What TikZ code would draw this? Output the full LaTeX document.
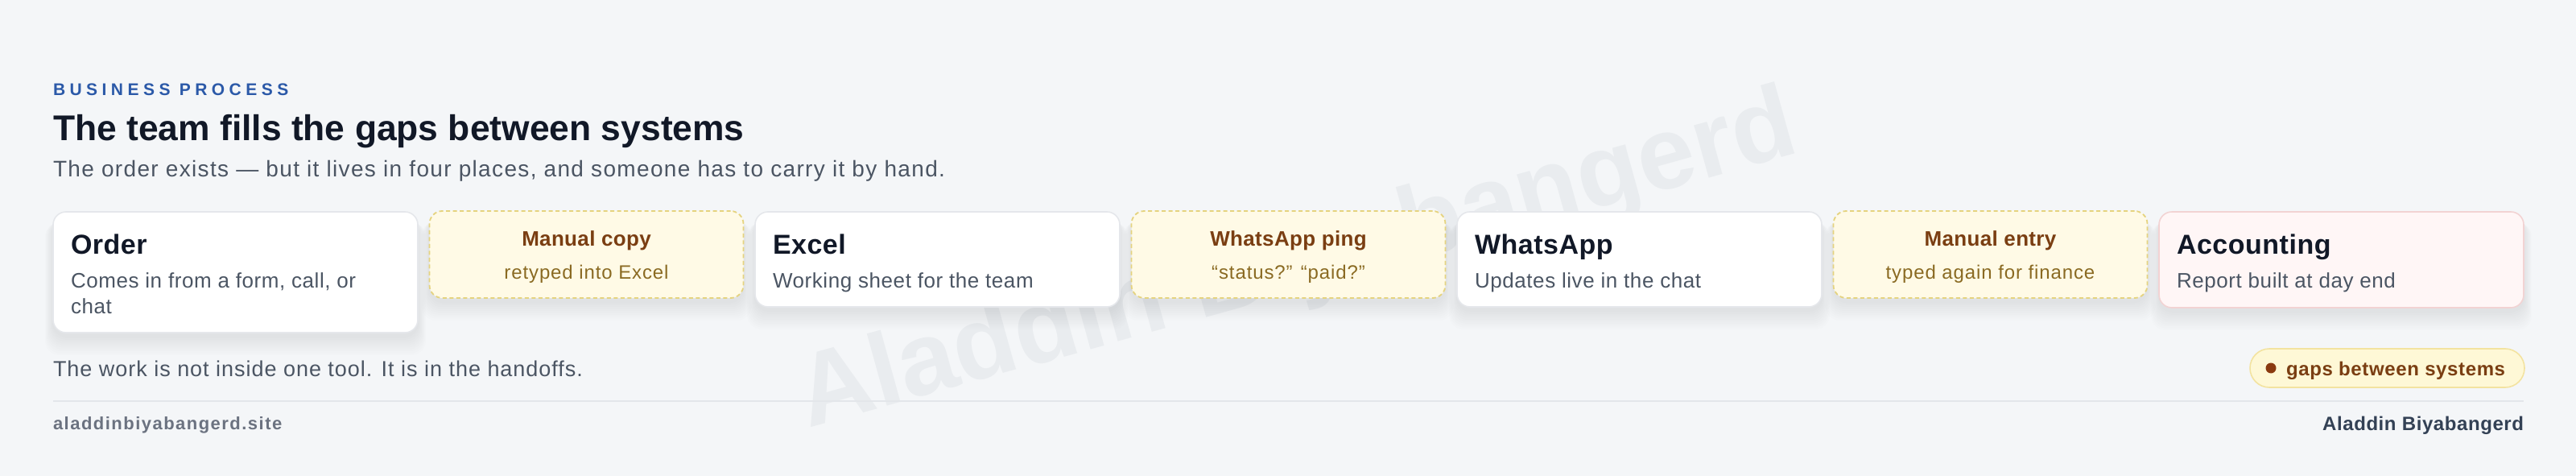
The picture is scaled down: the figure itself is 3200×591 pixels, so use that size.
\documentclass[tikz,border=0pt]{standalone}
\usepackage{fontspec}
\setmainfont{Liberation Sans}
\definecolor{bg}{HTML}{F4F6F8}
\definecolor{ink}{HTML}{111827}
\definecolor{muted}{HTML}{4B5563}
\definecolor{eyebrow}{HTML}{2B59A8}
\definecolor{gapline}{HTML}{E5D37F}
\definecolor{gapfill}{HTML}{FFFAE6}
\definecolor{gaptitle}{HTML}{7A3E12}
\definecolor{gapsub}{HTML}{8A6A22}
\definecolor{sysline}{HTML}{E5E7EB}
\definecolor{accfill}{HTML}{FFF6F6}
\definecolor{accline}{HTML}{F2D3D3}
\definecolor{pillfill}{HTML}{FEF8D6}
\definecolor{pillline}{HTML}{F3E3A0}
\definecolor{dotc}{HTML}{8A3A10}
\definecolor{sepline}{HTML}{E3E6EA}
\definecolor{footleft}{HTML}{6B7280}
\definecolor{footright}{HTML}{334155}
\definecolor{wmc}{HTML}{E9ECEF}
\newcommand{\fsz}[2]{\fontsize{#1}{#1}\selectfont\addfontfeature{LetterSpace=#2}}
\newcommand{\boxtitlefont}{\bfseries\fsz{34}{1.5}}
\newcommand{\boxdescfont}{\fsz{26}{2.2}}
\newcommand{\gaptitlefont}{\bfseries\fsz{26}{1.3}}
\newcommand{\gapsubfont}{\fsz{24}{3.7}}
\newcommand{\softshadow}[4]{%
  \foreach \i in {1,...,10}{%
    \fill[black,opacity=0.006,rounded corners=18pt] ({#1-\i},{#2+8+\i*0.5}) rectangle ({#3+\i},{#4+4+\i*2.4});}}
\begin{document}
\begin{tikzpicture}[x=1pt,y=-1pt,
  every node/.style={inner sep=0pt,outer sep=0pt},
  lbl/.style={anchor=base west},
  clbl/.style={anchor=base},
  sysbox/.style={draw=sysline,line width=1.6pt,fill=white,rounded corners=16pt,anchor=north west,minimum width=453pt},
  accbox/.style={sysbox,draw=accline,fill=accfill},
  gapbox/.style={draw=gapline,line width=1.8pt,dash pattern=on 5pt off 3.5pt,fill=gapfill,rounded corners=16pt,anchor=north west,minimum width=390pt,minimum height=108pt},
  btitle/.style={lbl,font=\boxtitlefont,text=ink},
  bdesc/.style={lbl,font=\boxdescfont,text=muted},
  gtitle/.style={clbl,font=\gaptitlefont,text=gaptitle},
  gsub/.style={clbl,font=\gapsubfont,text=gapsub}]
\useasboundingbox (0,0) rectangle (3200,591);
\fill[bg] (0,0) rectangle (3200,591);
% watermark
\node[rotate=15.5,text=wmc,font=\bfseries\fontsize{128}{128}\selectfont] (wm) at (1612,328.5) {Aladdin Biyabangerd};
% header
\node[lbl,text=eyebrow,font=\bfseries\fsz{21}{26}] (eyebrow) at (66,118) {BUSINESS PROCESS};
\node[lbl,text=ink,font=\bfseries\fontsize{44.4}{44.4}\selectfont] (title) at (66,174) {The team fills the gaps between systems};
\node[lbl,text=muted,font=\fsz{28}{4.8}] (subtitle) at (66,219) {The order exists — but it lives in four places, and someone has to carry it by hand.};
% shadows
\softshadow{66}{263}{519}{413}
\softshadow{533.5}{262}{923.5}{370}
\softshadow{938}{263}{1391}{381}
\softshadow{1405.5}{262}{1795.5}{370}
\softshadow{1810}{263}{2263}{381}
\softshadow{2277.5}{262}{2667.5}{370}
\softshadow{2682}{263}{3135}{382}
% boxes
\node[sysbox,minimum height=150pt] (order) at (66,263) {};
\node[gapbox] (copy) at (533.5,262) {};
\node[sysbox,minimum height=118pt] (excel) at (938,263) {};
\node[gapbox] (ping) at (1405.5,262) {};
\node[sysbox,minimum height=118pt] (whatsapp) at (1810,263) {};
\node[gapbox] (entry) at (2277.5,262) {};
\node[accbox,minimum height=119pt] (acct) at (2682,263) {};
% box texts
\node[btitle] (orderT) at (88,315) {Order};
\node[bdesc] (orderD1) at (88,357) {Comes in from a form, call, or};
\node[bdesc] (orderD2) at (88,389) {chat};
\node[gtitle] (copyT) at (728.5,305) {Manual copy};
\node[gsub] (copyS) at (728.5,346) {retyped into Excel};
\node[btitle] (excelT) at (960,315) {Excel};
\node[bdesc] (excelD) at (960,357) {Working sheet for the team};
\node[gtitle] (pingT) at (1600.5,305) {WhatsApp ping};
\node[gsub] (pingS) at (1600.5,346) {“status?” “paid?”};
\node[btitle] (whatsappT) at (1832,315) {WhatsApp};
\node[bdesc] (whatsappD) at (1832,357) {Updates live in the chat};
\node[gtitle] (entryT) at (2472.5,305) {Manual entry};
\node[gsub] (entryS) at (2472.5,346) {typed again for finance};
\node[btitle] (acctT) at (2704,315) {Accounting};
\node[bdesc] (acctD) at (2704,357) {Report built at day end};
% bottom line
\node[lbl,text=muted,font=\fsz{27}{3.6}] (note) at (66,467) {The work is not inside one tool. It is in the handoffs.};
\node[draw=pillline,fill=pillfill,line width=1.6pt,rounded corners=24pt,minimum width=341pt,minimum height=48pt,anchor=north west] (pill) at (2795,433) {};
\node[circle,fill=dotc,minimum size=13pt] (dot) at (2821,457) {};
\node[lbl,text=gaptitle,font=\bfseries\fsz{24}{2.6}] (pillT) at (2840,466) {gaps between systems};
% separator
\coordinate (sepL) at (66,498);
\coordinate (sepR) at (3135,498);
\draw[sepline,line width=2pt] (sepL) -- (sepR);
% footer
\node[lbl,text=footleft,font=\bfseries\fsz{22}{6.7}] (site) at (66,533) {aladdinbiyabangerd.site};
\node[anchor=base east,text=footright,font=\bfseries\fsz{24}{2.4}] (author) at (3135,534) {Aladdin Biyabangerd};
\end{tikzpicture}
\end{document}
